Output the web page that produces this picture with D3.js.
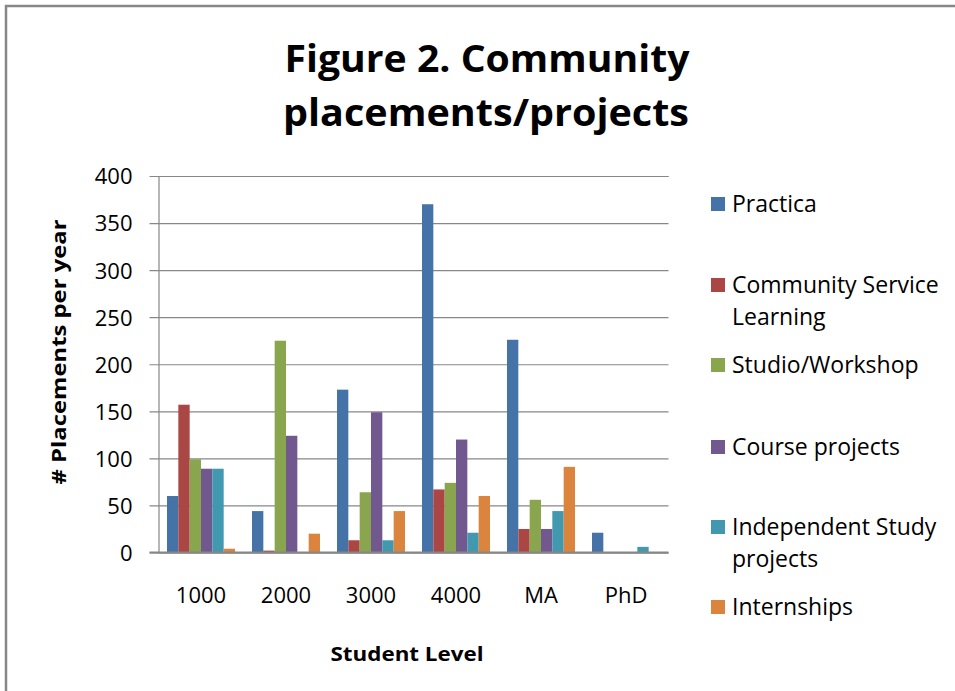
<!DOCTYPE html>
<html>
<head>
<meta charset="utf-8">
<script src="https://cdn.jsdelivr.net/npm/d3@7"></script>
<style>
  html, body { margin: 0; padding: 0; background: #fff; }
  svg { display: block; }
</style>
</head>
<body>
<div id="chart"></div>
<script>
// student levels on the category axis
const LEVELS = ['1000', '2000', '3000', '4000', 'MA', 'PhD'];

// one array per series, same order as LEVELS
const PRACTICA = [60, 44, 173, 370, 226, 21];
const COMMUNITY_SERVICE = [157, 2, 13, 67, 25, 0];
const STUDIO = [99, 225, 64, 74, 56, 0];
const COURSE_PROJECTS = [89, 124, 149, 120, 25, 0];
const INDEPENDENT_STUDY = [89, 0, 13, 21, 44, 6];
const INTERNSHIPS = [4, 20, 44, 60, 91, 0];

const SERIES_NAMES = [
  ['Practica'],
  ['Community Service', 'Learning'],
  ['Studio/Workshop'],
  ['Course projects'],
  ['Independent Study', 'projects'],
  ['Internships'],
];
const SERIES_VALUES = [PRACTICA, COMMUNITY_SERVICE, STUDIO, COURSE_PROJECTS, INDEPENDENT_STUDY, INTERNSHIPS];
const COLORS = ['#4572A7', '#AA4643', '#89A54E', '#71588F', '#4198AF', '#DB843D'];

const Y_TICKS = [0, 50, 100, 150, 200, 250, 300, 350, 400];

const W = 955, H = 691;
const plot = { left: 158.5, right: 668.5, top: 176, bottom: 552.5 };
const FONT = '"Open Sans", "Liberation Sans", sans-serif';

const svg = d3.select('#chart').append('svg')
  .attr('width', W)
  .attr('height', H);

// outer chart frame (only left and top edges are inside the picture)
svg.append('path')
  .attr('d', `M6,${H + 2} V6 H${W + 2}`)
  .attr('fill', 'none')
  .attr('stroke', '#878787')
  .attr('stroke-width', 2.5);

// title
const title = svg.append('g')
  .attr('font-family', FONT)
  .attr('font-weight', 700)
  .attr('font-size', '38px')
  .attr('fill', '#000')
  .attr('text-anchor', 'middle');
title.append('text').attr('x', 487).attr('y', 72)
  .attr('textLength', 405).attr('lengthAdjust', 'spacingAndGlyphs')
  .text('Figure 2. Community');
title.append('text').attr('x', 486).attr('y', 126)
  .attr('textLength', 406).attr('lengthAdjust', 'spacingAndGlyphs')
  .text('placements/projects');

const x0 = d3.scaleBand()
  .domain(LEVELS)
  .range([plot.left, plot.right])
  .paddingInner(0.2)
  .paddingOuter(0.1);

const x1 = d3.scaleBand()
  .domain(d3.range(SERIES_VALUES.length))
  .range([0, x0.bandwidth()]);

const y = d3.scaleLinear()
  .domain([0, 400])
  .range([plot.bottom, plot.top]);

// gridlines + y axis
const yAxis = d3.axisLeft(y)
  .tickValues(Y_TICKS)
  .tickSize(-(plot.right - plot.left))
  .tickPadding(26);

const yAxisG = svg.append('g')
  .attr('transform', `translate(${plot.left},0)`)
  .call(yAxis);

yAxisG.select('.domain').attr('stroke', '#878787').attr('stroke-width', 1.2);
yAxisG.selectAll('.tick line')
  .attr('x1', -9)
  .attr('stroke', '#878787')
  .attr('stroke-width', 1.2);
yAxisG.selectAll('.tick text')
  .attr('font-family', FONT)
  .attr('font-size', '22px')
  .attr('fill', '#000')
  .attr('dy', '0.36em');

// bars
const groups = svg.append('g')
  .selectAll('g')
  .data(LEVELS)
  .join('g')
  .attr('transform', d => `translate(${x0(d)},0)`);

groups.selectAll('rect')
  .data((lvl, li) => SERIES_VALUES.map((vals, si) => ({ si, v: vals[li] })))
  .join('rect')
  .attr('x', d => x1(d.si))
  .attr('width', x1.bandwidth())
  .attr('y', d => y(d.v))
  .attr('height', d => y(0) - y(d.v))
  .attr('fill', d => COLORS[d.si]);

// baseline / category axis
const xAxis = d3.axisBottom(x0).tickSize(0).tickPadding(35);
const xAxisG = svg.append('g')
  .attr('transform', `translate(0,${plot.bottom})`)
  .call(xAxis);
xAxisG.select('.domain').remove();
xAxisG.append('line')
  .attr('x1', plot.left - 9)
  .attr('x2', plot.right)
  .attr('stroke', '#878787')
  .attr('stroke-width', 2);
xAxisG.selectAll('.tick text')
  .attr('font-family', FONT)
  .attr('font-size', '22px')
  .attr('fill', '#000');

// axis titles
svg.append('text')
  .attr('transform', `translate(66,352) rotate(-90)`)
  .attr('text-anchor', 'middle')
  .attr('font-family', FONT)
  .attr('font-weight', 700)
  .attr('font-size', '20px')
  .attr('textLength', 265)
  .attr('lengthAdjust', 'spacingAndGlyphs')
  .text('# Placements per year');

svg.append('text')
  .attr('x', 407)
  .attr('y', 661)
  .attr('text-anchor', 'middle')
  .attr('font-family', FONT)
  .attr('font-weight', 700)
  .attr('font-size', '20px')
  .attr('textLength', 153)
  .attr('lengthAdjust', 'spacingAndGlyphs')
  .text('Student Level');

// legend
const LEGEND_Y = [204, 285, 365, 447, 527, 607];
const legend = svg.append('g')
  .selectAll('g')
  .data(SERIES_NAMES)
  .join('g')
  .attr('transform', (d, i) => `translate(711,${LEGEND_Y[i]})`);

legend.append('rect')
  .attr('x', 0)
  .attr('y', -7)
  .attr('width', 14)
  .attr('height', 14)
  .attr('fill', (d, i) => COLORS[i]);

legend.append('text')
  .attr('font-family', FONT)
  .attr('font-size', '23px')
  .attr('fill', '#000')
  .selectAll('tspan')
  .data(d => d)
  .join('tspan')
  .attr('x', 21)
  .attr('y', (d, i) => i * 32)
  .attr('dy', '0.36em')
  .text(d => d);
</script>
</body>
</html>
